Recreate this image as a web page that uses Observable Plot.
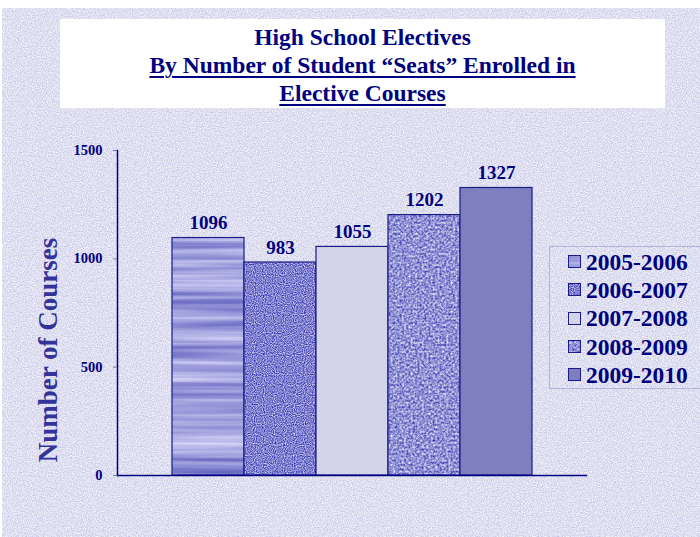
<!DOCTYPE html>
<html><head><meta charset="utf-8">
<script src="https://cdn.jsdelivr.net/npm/d3@7"></script>
<script src="https://cdn.jsdelivr.net/npm/@observablehq/plot@0.6"></script>
<style>
html,body{margin:0;padding:0;background:#fff;}
#wrap{position:relative;width:700px;height:537px;overflow:hidden;background:#fff;font-family:"Liberation Serif","Times New Roman",serif;}
#chart{position:absolute;left:0;top:0;}
#title{position:absolute;left:60px;top:19px;width:605px;height:89px;background:#fff;color:#000080;font-weight:bold;font-size:23.5px;text-align:center;line-height:28px;box-sizing:border-box;padding-top:4px;}
#title .u{text-decoration:underline;text-decoration-thickness:2px;text-underline-offset:3px;}
#legend{position:absolute;left:549px;top:246px;width:160px;height:143px;border:1px solid #b4b4d6;box-sizing:border-box;padding-top:1px;}
#legend .row{display:flex;align-items:center;height:28.3px;padding-left:18px;color:#000080;font-weight:bold;font-size:23.5px;}
#legend svg{margin-right:4px;}
</style></head>
<body>
<svg width="0" height="0" style="position:absolute">
<defs>
<filter id="fBg" x="0" y="0" width="700" height="537" filterUnits="userSpaceOnUse" color-interpolation-filters="sRGB">
  <feTurbulence type="fractalNoise" baseFrequency="0.8" numOctaves="2" seed="7"/>
  <feColorMatrix type="matrix" values="0.35 0 0 0 0.70  0.35 0 0 0 0.70  0.15 0 0 0 0.87  0 0 0 0 1"/>
</filter>
<filter id="fWood" x="0" y="0" width="700" height="537" filterUnits="userSpaceOnUse" color-interpolation-filters="sRGB">
  <feTurbulence type="fractalNoise" baseFrequency="0.003 0.14" numOctaves="3" seed="3"/>
  <feColorMatrix type="matrix" values="0.7 0 0 0 0.27  0.7 0 0 0 0.27  0.35 0 0 0 0.69  0 0 0 0 1"/>
</filter>
<filter id="fWoven" x="0" y="0" width="700" height="537" filterUnits="userSpaceOnUse" color-interpolation-filters="sRGB">
  <feTurbulence type="fractalNoise" baseFrequency="0.9" numOctaves="1" seed="5"/>
  <feColorMatrix type="matrix" values="1.2 0 0 0 -0.10  1.2 0 0 0 -0.10  0.55 0 0 0 0.54  0 0 0 0 1"/>
</filter>
<filter id="fSpeck" x="0" y="0" width="700" height="537" filterUnits="userSpaceOnUse" color-interpolation-filters="sRGB">
  <feTurbulence type="fractalNoise" baseFrequency="0.45" numOctaves="2" seed="11"/>
  <feColorMatrix type="matrix" values="1.0 0 0 0 0.07  1.0 0 0 0 0.07  0.45 0 0 0 0.61  0 0 0 0 1"/>
</filter>
<pattern id="pBg" patternUnits="userSpaceOnUse" width="700" height="537"><rect width="700" height="537" fill="#fff" filter="url(#fBg)"/></pattern>
<pattern id="pWood" patternUnits="userSpaceOnUse" width="700" height="537"><rect width="700" height="537" fill="#fff" filter="url(#fWood)"/></pattern>
<pattern id="pWoven" patternUnits="userSpaceOnUse" width="700" height="537"><rect width="700" height="537" fill="#fff" filter="url(#fWoven)"/></pattern>
<pattern id="pSpeck" patternUnits="userSpaceOnUse" width="700" height="537"><rect width="700" height="537" fill="#fff" filter="url(#fSpeck)"/></pattern>
</defs>
</svg>
<div id="wrap">
  <div id="chart"></div>
  <div id="title">High School Electives<br><span class="u">By Number of Student “Seats” Enrolled in</span><br><span class="u">Elective Courses</span></div>
  <div id="legend"></div>
</div>
<script>
// ---- data ----
const seasons = ["2005-2006", "2006-2007", "2007-2008", "2008-2009", "2009-2010"];
const seats = [1096, 983, 1055, 1202, 1327];
const yTicks = [0, 500, 1000, 1500];
const yLabel = "Number of Courses";

// ---- styles ----
const barFills = ["url(#pWood)", "url(#pWoven)", "#d3d3ea", "url(#pSpeck)", "#7f7fbf"];
const navy = "#000080";

const data = seasons.map((s, i) => ({season: s, seats: seats[i]}));

const plot = Plot.plot({
  width: 700,
  height: 537,
  marginTop: 150,
  marginBottom: 62,
  marginLeft: 117,
  marginRight: 114,
  style: {background: "none", fontFamily: "Liberation Serif, Times New Roman, serif"},
  x: {domain: seasons, paddingInner: 0, paddingOuter: 0.75, axis: null},
  y: {domain: [0, 1500], axis: null},
  color: {type: "ordinal", domain: seasons, range: barFills},
  marks: [
    Plot.barY(data, {x: "season", y: "seats", fill: "season", stroke: "#1c1c86", strokeWidth: 1.2, inset: 0}),
    Plot.frame({anchor: "left", stroke: navy, strokeWidth: 1.5}),
    Plot.frame({anchor: "bottom", stroke: navy, strokeWidth: 1.5}),
    Plot.axisY({ticks: yTicks, tickSize: 4, tickPadding: 11, stroke: "#8080b0", fill: navy, fontSize: 14.5, fontWeight: "bold", label: null, tickFormat: d => String(d)}),
    Plot.text(data, {x: "season", y: "seats", text: d => String(d.seats), dy: -9, lineAnchor: "bottom", fontSize: 19, fontWeight: "bold", fill: navy}),
    Plot.text([yLabel], {frameAnchor: "left", textAnchor: "middle", rotate: -90, dx: -69, dy: 37, fontSize: 27, fontWeight: "bold", fill: "#33339a"})
  ]
});

// textured background behind everything
const svg = d3.select(plot);
svg.insert("rect", ":first-child")
  .attr("x", 2).attr("y", 8).attr("width", 698).attr("height", 529)
  .attr("fill", "url(#pBg)");
document.getElementById("chart").appendChild(plot);

// legend
const leg = d3.select("#legend");
seasons.forEach((s, i) => {
  const row = leg.append("div").attr("class", "row");
  const sw = row.append("svg").attr("width", 14).attr("height", 14);
  sw.append("rect").attr("x", 0.5).attr("y", 0.5).attr("width", 12).attr("height", 12)
    .attr("fill", barFills[i]).attr("stroke", "#1c1c86").attr("stroke-width", 1);
  row.append("span").text(s);
});
</script>
</body></html>
